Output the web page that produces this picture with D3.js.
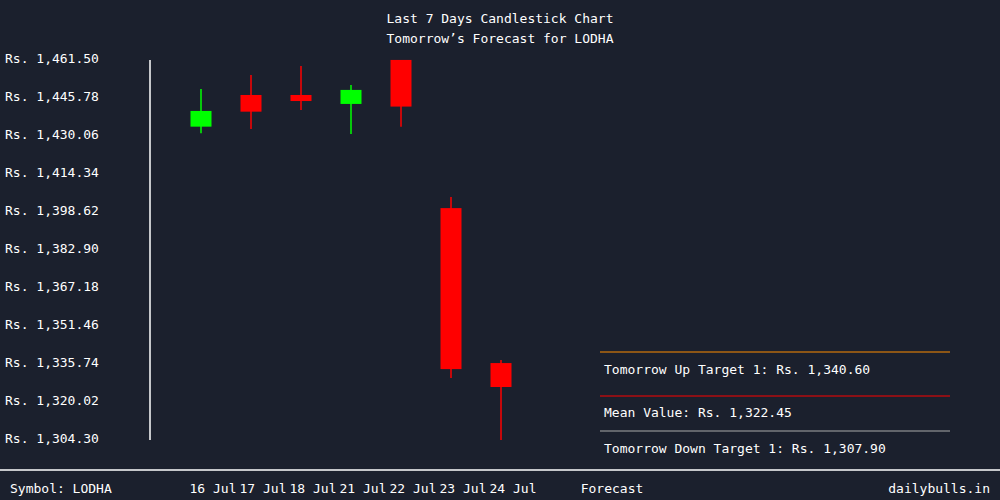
<!DOCTYPE html><html><head><meta charset="utf-8">
<script src="https://cdn.jsdelivr.net/npm/d3@7"></script>
<style>body{margin:0;background:#1b202d}text{font-family:"DejaVu Sans Mono",monospace;fill:#fff;font-size:13px}</style>
</head><body><svg id="c" width="1000" height="500"></svg><script>
const dates=["16 Jul","17 Jul","18 Jul","21 Jul","22 Jul","23 Jul","24 Jul"];
const open=[1433.1,1446.2,1446.2,1442.5,1460.7,1399.4,1335.3];
const close=[1439.6,1439.3,1443.7,1448.3,1441.4,1332.8,1325.4];
const high=[1448.7,1454.5,1458.2,1450.3,1460.7,1404.0,1336.6];
const low=[1430.4,1432.1,1440.0,1430.1,1433.1,1329.1,1303.5];
const ticks=[1461.50,1445.78,1430.06,1414.34,1398.62,1382.90,1367.18,1351.46,1335.74,1320.02,1304.30];
const forecast=[["Tomorrow Up Target 1: Rs. 1,340.60","#ff8c00"],["Mean Value: Rs. 1,322.45","#ff0000"],["Tomorrow Down Target 1: Rs. 1,307.90","#aaaaaa"]];
const svg=d3.select("#c");
svg.append("rect").attr("width",1000).attr("height",500).attr("fill","#1b202d");
const y=d3.scaleLinear().domain([1304.3,1461.5]).range([438,58]);
const x=d3.scaleBand().domain(dates).range([176,526]);
const fmt=v=>"Rs. "+d3.format(",.2f")(v);
svg.selectAll(".yt").data(ticks).join("text").attr("x",5).attr("y",d=>y(d)).attr("dy","0.35em").text(fmt);
svg.append("line").attr("x1",150).attr("x2",150).attr("y1",60).attr("y2",440).attr("stroke","#fff").attr("stroke-width",1.5);
const idx=d3.range(dates.length);
idx.forEach(i=>{const c=close[i]>=open[i]?"#00ff00":"#ff0000";const cx=x(dates[i])+x.bandwidth()/2;
svg.append("line").attr("x1",cx).attr("x2",cx).attr("y1",y(high[i])).attr("y2",y(low[i])).attr("stroke",c).attr("stroke-width",1.5);
svg.append("rect").attr("x",cx-10.5).attr("width",21).attr("y",y(Math.max(open[i],close[i]))).attr("height",Math.max(1,y(Math.min(open[i],close[i]))-y(Math.max(open[i],close[i])))).attr("fill",c);
svg.append("text").attr("x",cx+12).attr("y",493).attr("text-anchor","middle").text(dates[i]);});
svg.append("text").attr("x",500).attr("y",23).attr("text-anchor","middle").text("Last 7 Days Candlestick Chart");
svg.append("text").attr("x",500).attr("y",43).attr("text-anchor","middle").text("Tomorrow’s Forecast for LODHA");
svg.append("line").attr("x1",0).attr("x2",1000).attr("y1",470).attr("y2",470).attr("stroke","#fff").attr("stroke-width",1.5);
svg.append("text").attr("x",10).attr("y",493).text("Symbol: LODHA");
svg.append("text").attr("x",612).attr("y",493).attr("text-anchor","middle").text("Forecast");
svg.append("text").attr("x",990).attr("y",493).attr("text-anchor","end").text("dailybulls.in");
const ly=[352,396,431],ty=[374,417,453];
forecast.forEach((f,i)=>{svg.append("line").attr("x1",600).attr("x2",950).attr("y1",ly[i]).attr("y2",ly[i]).attr("stroke",f[1]);
svg.append("text").attr("x",604).attr("y",ty[i]).text(f[0]);});
</script></body></html>
